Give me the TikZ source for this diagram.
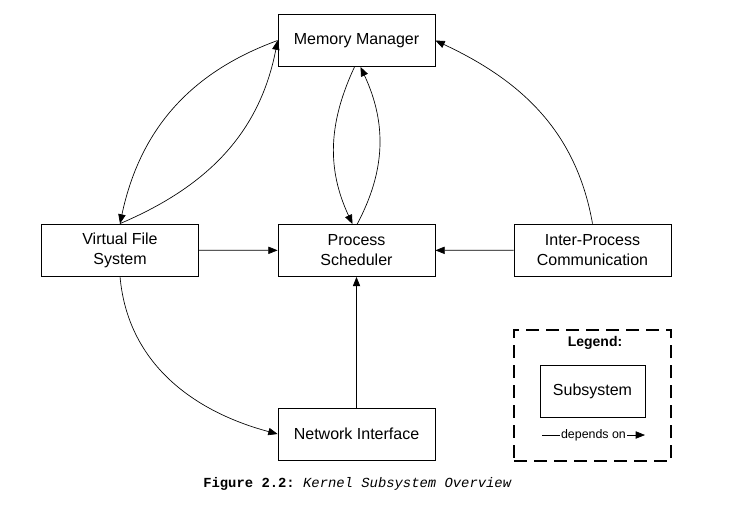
\documentclass[tikz,border=0pt]{standalone}
\usepackage{fontspec}
\setmainfont{Liberation Sans}
\setmonofont{Liberation Mono}
\usetikzlibrary{arrows.meta}
\tikzset{
  sub/.style={draw, line width=0.6pt, minimum width=117.75pt, minimum height=39pt,
    align=center, font=\fontsize{12}{15}\selectfont},
  dep/.style={line width=0.5pt, -{Triangle[length=7pt,width=5.5pt]}},
  legendbox/.style={draw, line width=2.2pt, dash pattern=on 10pt off 5pt,
    minimum width=117.75pt, minimum height=98.25pt}
}
\begin{document}
\begin{tikzpicture}[x=0.75pt,y=-0.75pt]
  \useasboundingbox (0,0) rectangle (730,507);
  \draw
    (356.5,40.5) node[sub] (mm){Memory Manager}
    (120,250) node[sub] (vfs){Virtual File\\System}
    (356.5,250.5) node[sub] (ps){Process\\Scheduler}
    (592.5,250) node[sub] (ipc){Inter-Process\\Communication}
    (356.5,434) node[sub] (ni){Network Interface};
  % legend
  \node[legendbox] (legend) at (592.5,395.5) {};
  \node[font=\fontsize{10.5}{12}\selectfont\bfseries] (legtitle) at (595,343) {Legend:};
  \node[sub, minimum width=78.75pt] (legsub) at (592.5,391) {Subsystem};
  \coordinate (legA) at (542,435);
  \coordinate (legB) at (645,435);
  \draw[dep] (legA) -- (legB)
    node[midway, fill=white, inner sep=1pt, font=\fontsize{9.3}{11}\selectfont] (legdep) {depends on};
  % caption
  \node[font=\fontsize{10.4}{12}\selectfont\ttfamily] (caption) at (357.5,484)
    {\textbf{Figure 2.2:} \textit{Kernel Subsystem Overview}};
  \begin{scope}[dep]
    \draw (mm.west) to[out=200,in=78] (vfs.north);
    \draw (vfs.north) to[out=23,in=259] (mm.west);
    \draw ([xshift=-1.5pt]mm.south) to[out=245,in=115] ([xshift=-3pt]ps.north);
    \draw ([xshift=0.5pt]ps.north) to[out=62,in=295] ([xshift=3pt]mm.south);
    \draw (ipc.north) to[out=100,in=-25] (mm.east);
    \draw (vfs.south) to[out=-85,in=165] (ni.west);
    \draw (vfs) -- (ps);
    \draw (ipc) -- (ps);
    \draw (ni) -- (ps);
  \end{scope}
\end{tikzpicture}
\end{document}
